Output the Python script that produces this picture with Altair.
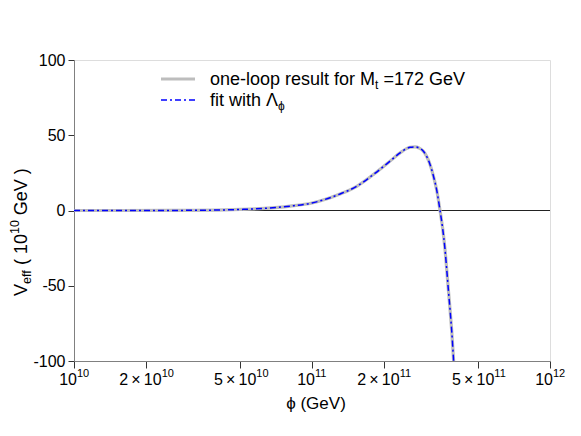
import altair as alt
import pandas as pd

# ---- data ----
phi = [1.0e10, 1.58e10, 2.51e10, 3.16e10, 3.98e10, 5.01e10, 6.31e10, 8.09e10,
       1.0e11, 1.114e11, 1.312e11, 1.542e11, 1.811e11, 2.128e11, 2.344e11, 2.582e11,
       2.710e11, 2.818e11, 2.938e11, 3.034e11, 3.133e11, 3.236e11, 3.342e11, 3.451e11,
       3.540e11, 3.622e11, 3.681e11, 3.741e11, 3.802e11, 3.864e11, 3.936e11]
v_one_loop = [0.0, 0.01, 0.05, 0.12, 0.3, 0.7, 1.4, 2.9,
              5.0, 7.0, 11.0, 16.1, 23.9, 32.8, 38.3, 42.0,
              42.3, 41.5, 39.4, 35.9, 30.6, 23.0, 13.5, 0.0,
              -12.0, -26.0, -39.0, -52.7, -65.8, -80.0, -100.0]
v_fit = list(v_one_loop)

x_ticks_pow = [1e10, 1e11, 1e12]
x_ticks_pow_exp = ["10", "11", "12"]
x_ticks_mult = [2e10, 5e10, 2e11, 5e11]
x_ticks_mult_base = ["2\u2009\u00d7\u200910", "5\u2009\u00d7\u200910", "2\u2009\u00d7\u200910", "5\u2009\u00d7\u200910"]
x_ticks_mult_exp = ["10", "10", "11", "11"]
y_ticks = [-100, -50, 0, 50, 100]

FONT = "Liberation Sans"
NB = "\u00a0"
PHI = "\u03d5"
W, H = 476, 301

df1 = pd.DataFrame({"phi": phi, "V": v_one_loop})
df2 = pd.DataFrame({"phi": phi, "V": v_fit})

xscale = alt.Scale(type="log", domain=[1e10, 1e12], nice=False)
yscale = alt.Scale(domain=[-100, 100], nice=False, zero=False)

x_enc = alt.X("phi:Q", scale=xscale,
              axis=alt.Axis(values=[1e10, 2e10, 5e10, 1e11, 2e11, 5e11, 1e12], labels=False,
                            title=None, grid=False, tickSize=7, tickColor="#333333",
                            domainColor="#808080"))
y_enc = alt.Y("V:Q", scale=yscale,
              axis=alt.Axis(values=y_ticks, title=None, grid=False, tickSize=6,
                            labelFontSize=16, labelFont=FONT, labelColor="black",
                            labelExpr="'' + datum.value",
                            labelPadding=3, tickColor="#333333", domainColor="#808080"))

one_loop = alt.Chart(df1).mark_line(color="#bdbdbd", strokeWidth=3.2, clip=True,
                                    interpolate="monotone").encode(x=x_enc, y=y_enc)
fit = alt.Chart(df2).mark_line(color="#0000ff", strokeWidth=1.5, strokeDash=[6, 3, 2, 3],
                               clip=True, interpolate="monotone").encode(x="phi:Q", y="V:Q")

zero = alt.Chart(pd.DataFrame({"V": [0]})).mark_rule(color="#222222", strokeWidth=1).encode(
    y="V:Q", x=alt.value(0), x2=alt.value(W))

# x tick labels
pow_df = pd.DataFrame({"phi": x_ticks_pow, "base": ["10"] * 3, "exp": x_ticks_pow_exp})
mult_df = pd.DataFrame({"phi": x_ticks_mult, "base": x_ticks_mult_base, "exp": x_ticks_mult_exp})
BASE_Y, SUP_Y = H + 24, H + 16

def tick_labels(df, dx):
    b = alt.Chart(df).mark_text(font=FONT, fontSize=16, align="right", baseline="alphabetic",
                                dx=dx, color="black").encode(x="phi:Q", y=alt.value(BASE_Y), text="base:N")
    s = alt.Chart(df).mark_text(font=FONT, fontSize=11, align="left", baseline="alphabetic",
                                dx=dx, color="black").encode(x="phi:Q", y=alt.value(SUP_Y), text="exp:N")
    return b + s

lab_pow = tick_labels(pow_df, 3)
lab_mult = tick_labels(mult_df, 16)

def txt(s, x, y, size=16, angle=0, align="left"):
    return alt.Chart(pd.DataFrame({"t": [s]})).mark_text(
        font=FONT, fontSize=size, angle=angle, align=align, baseline="alphabetic",
        color="black").encode(text="t:N", x=alt.value(x), y=alt.value(y))

# x title
xtitle = txt(PHI + NB + "(GeV)", 242, H + 48, size=17, align="center")

# y title (rotated, pieces bottom to top)
TS, SS = 18, 12.5
SP = 0.278 * TS
YB = -47
y0 = 236
w_V = 0.667 * TS
w_eff = 1.112 * SS
w_mid = 1.723 * TS
w_sup = 1.112 * SS
p1 = y0 - w_V
p2 = p1 - w_eff - SP
p3 = p2 - w_mid
p4 = p3 - w_sup - SP
ytitle = (txt("V", YB, y0, TS, 270)
          + txt("eff", YB + 4, p1, SS, 270)
          + txt("(" + NB + "10", YB, p2, TS, 270)
          + txt("10", YB - 8, p3, SS, 270)
          + txt("GeV" + NB + ")", YB, p4, TS, 270))

# legend
LX0, LX1, LT = 87, 121, 136
leg_line1 = alt.Chart(pd.DataFrame({"a": [0]})).mark_rule(color="#bdbdbd", strokeWidth=3.2).encode(
    x=alt.value(LX0), x2=alt.value(LX1), y=alt.value(19))
leg_line2 = alt.Chart(pd.DataFrame({"a": [0]})).mark_rule(color="#0000ff", strokeWidth=1.5,
                                                         strokeDash=[6, 3, 2, 3]).encode(
    x=alt.value(LX0), x2=alt.value(LX1), y=alt.value(40))
LS = 18
w1 = 9.170 * LS
leg_text = (txt("one-loop result for M", LT, 25, LS)
            + txt("t", LT + w1, 29, 12)
            + txt("=172 GeV", LT + w1 + 3.4 + 0.278 * LS, 25, LS)
            + txt("fit with \u039b", LT, 46, LS)
            + txt(PHI, LT + 3.112 * LS + 12.0, 50, 12))

chart = alt.layer(zero, one_loop, fit, lab_pow, lab_mult, xtitle, ytitle,
                  leg_line1, leg_line2, leg_text).properties(
    width=W, height=H,
    autosize=alt.AutoSizeParams(type="none"),
    padding={"left": 66, "top": 52, "right": 23, "bottom": 67},
).configure_view(stroke="#808080", strokeWidth=1).configure(background="white")

chart.save("out.html", embed_options={"renderer": "svg", "actions": False})
